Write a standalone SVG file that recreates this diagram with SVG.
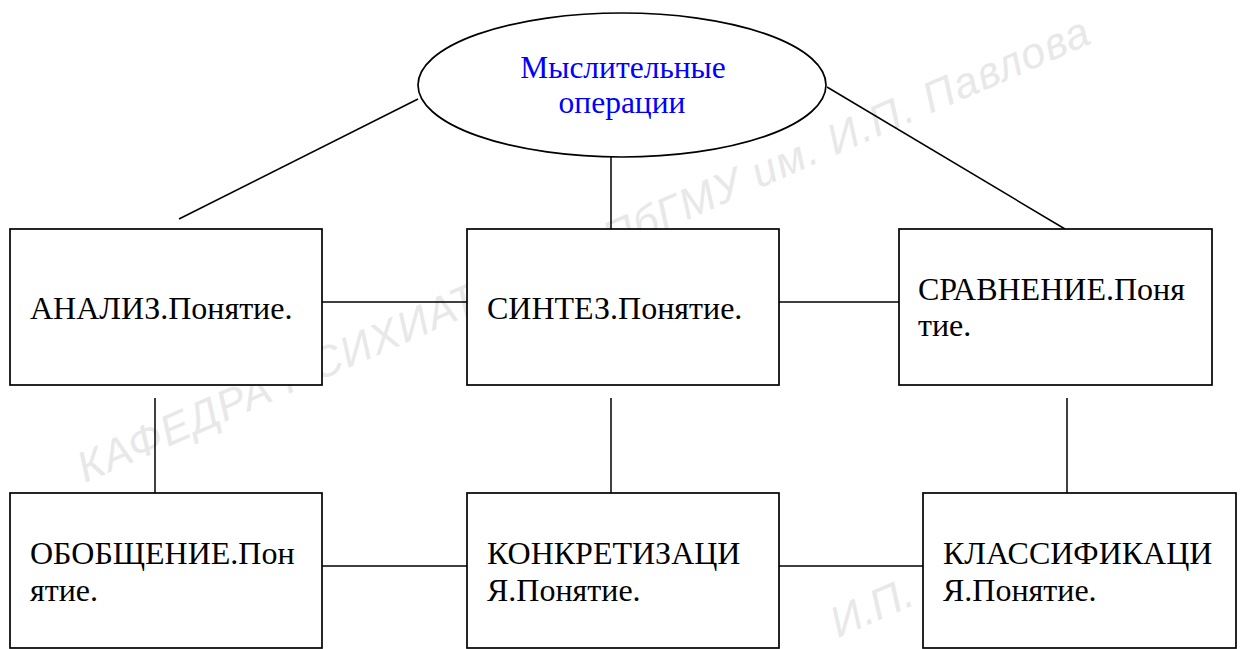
<svg xmlns="http://www.w3.org/2000/svg" width="1242" height="649" viewBox="0 0 1242 649">
<style>
.box{fill:#fff;stroke:#000;stroke-width:1.7}
.ell{fill:#fff;stroke:#000;stroke-width:1.7}
.ln{stroke:#000;stroke-width:1.5;fill:none}
.t{font-family:"Liberation Serif","DejaVu Serif",serif;font-size:32px;fill:#000}
.tb{font-family:"Liberation Serif","DejaVu Serif",serif;font-size:31.5px;fill:#0000ff;text-anchor:middle}
.wm{font-family:"Liberation Sans",Arial,sans-serif;font-size:43px;font-style:italic;fill:#e8e8e8}
</style>
<rect width="1242" height="649" fill="#fff"/>
<g id="watermark">
<text class="wm" transform="translate(85,483) rotate(-23.6)" textLength="1100" lengthAdjust="spacing">КАФЕДРА ПСИХИАТРИИ СПбГМУ им. И.П. Павлова</text>
<text class="wm" transform="translate(838,638) rotate(-23.6)">И.П.</text>
</g>
<g id="connectors">
<line class="ln" x1="179" y1="219" x2="418" y2="99"/>
<line class="ln" x1="611" y1="157" x2="611" y2="229"/>
<line class="ln" x1="827" y1="87" x2="1065" y2="229"/>
<line class="ln" x1="322" y1="302" x2="467" y2="302"/>
<line class="ln" x1="779" y1="302" x2="899" y2="302"/>
<line class="ln" x1="155" y1="398" x2="155" y2="493"/>
<line class="ln" x1="611" y1="398" x2="611" y2="493"/>
<line class="ln" x1="1067" y1="398" x2="1067" y2="493"/>
<line class="ln" x1="322" y1="566" x2="467" y2="566"/>
<line class="ln" x1="779" y1="566" x2="923" y2="566"/>
</g>
<g id="root">
<ellipse class="ell" cx="622" cy="85" rx="204" ry="72"/>
<text class="tb" x="623" y="78">Мыслительные</text>
<text class="tb" x="622" y="113">операции</text>
</g>
<g id="analiz">
<rect class="box" x="10" y="229" width="312" height="156"/>
<text class="t" x="30" y="319">АНАЛИЗ.Понятие.</text>
</g>
<g id="sintez">
<rect class="box" x="467" y="229" width="312" height="156"/>
<text class="t" x="487" y="319">СИНТЕЗ.Понятие.</text>
</g>
<g id="sravnenie">
<rect class="box" x="899" y="229" width="313" height="156"/>
<text class="t" x="918" y="300">СРАВНЕНИЕ.Поня</text>
<text class="t" x="918" y="336">тие.</text>
</g>
<g id="obobshchenie">
<rect class="box" x="10" y="493" width="312" height="155"/>
<text class="t" x="30" y="564">ОБОБЩЕНИЕ.Пон</text>
<text class="t" x="30" y="601">ятие.</text>
</g>
<g id="konkretizatsiya">
<rect class="box" x="467" y="493" width="312" height="155"/>
<text class="t" x="487" y="564">КОНКРЕТИЗАЦИ</text>
<text class="t" x="487" y="601">Я.Понятие.</text>
</g>
<g id="klassifikatsiya">
<rect class="box" x="923" y="493" width="313" height="155"/>
<text class="t" x="943" y="564">КЛАССИФИКАЦИ</text>
<text class="t" x="943" y="601">Я.Понятие.</text>
</g>
</svg>
